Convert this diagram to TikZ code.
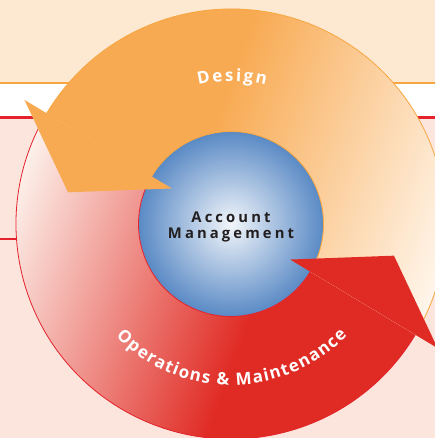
\documentclass[tikz,border=0pt]{standalone}
\usepackage{fontspec}
\setmainfont{Open Sans}
\usetikzlibrary{decorations.text}

\definecolor{peach}{HTML}{FDE9D1}
\definecolor{blush}{HTML}{FBE5DC}
\definecolor{lineorange}{HTML}{F7A640}
\definecolor{linered}{HTML}{E3222B}
\definecolor{designorange}{HTML}{F8AA52}
\definecolor{designlight}{HTML}{FFF6EC}
\definecolor{opsred}{HTML}{E02B24}
\definecolor{opslight}{HTML}{FDF1EB}
\definecolor{ballblue}{HTML}{5A8AC5}
\definecolor{textdark}{HTML}{231F20}

\begin{document}
\begin{tikzpicture}[x=1pt, y=1pt,
  ringlabel/.style={decorate, decoration={text along path, text align=center, text color=white}}]
% page frame: 435 x 438, origin at the centre of the cycle
\useasboundingbox (-231,-214) rectangle (204,224);

% background bands and rules
\fill[peach] (-231,141) rectangle (204,224);
\fill[white] (-231,107) rectangle (204,141);
\fill[blush] (-231,-214) rectangle (204,107);
\draw[lineorange, line width=2.5pt] (-231,141) -- (204,141);
\draw[linered, line width=2.5pt] (-231,106.5) -- (204,106.5);
\draw[linered, line width=2.5pt] (-231,-15) -- (-200,-15);

% centre ball
\shade[inner color=white!92!ballblue, outer color=ballblue] (0,0) circle (92.5);

% Operations & Maintenance band: 149 to 329 degrees
\begin{scope}
  \clip (149:215) arc[start angle=149, end angle=329, radius=215] -- (329:92.5) arc[start angle=329, end angle=149, radius=92.5] -- cycle;
  \begin{scope}[transform canvas={rotate=-20}]
    \shade[left color=opslight, right color=opsred, middle color=opsred] (-216,-240) rectangle (316,240);
  \end{scope}
\end{scope}
\draw[linered, line width=0.8pt] (149:215) arc[start angle=149, end angle=329, radius=215];
\draw[linered, line width=0.8pt] (149:92.5) arc[start angle=149, end angle=329, radius=92.5];

% Design band: -31 to 149 degrees
\begin{scope}
  \clip (-31:215) arc[start angle=-31, end angle=149, radius=215] -- (149:92.5) arc[start angle=149, end angle=-31, radius=92.5] -- cycle;
  \begin{scope}[transform canvas={rotate=-20}]
    \shade[left color=designorange, right color=designlight, middle color=designorange] (-316,-240) rectangle (216,240);
  \end{scope}
\end{scope}
\draw[lineorange, line width=0.8pt] (-31:215) arc[start angle=-31, end angle=149, radius=215];
\draw[lineorange, line width=0.8pt] (-31:92.5) arc[start angle=-31, end angle=149, radius=92.5];

% arrow heads
\fill[designorange] (149:241) -- (169:166) -- (149:69) -- cycle;
\fill[opsred] (329:241) -- (349:166) -- (329:69) -- cycle;

% labels
\node[align=center, text=textdark, font=\fontsize{14.8}{16.6}\selectfont\bfseries\addfontfeature{LetterSpace=21}] (hub) at (0,-3) {Account\\Management};
\path[ringlabel, decoration={text={|\fontsize{17}{17}\selectfont\bfseries\kern2.2pt|Design}}] (135:143) arc[start angle=135, end angle=45, radius=143];
\path[ringlabel, decoration={text={|\fontsize{17}{17}\selectfont\bfseries\kern1.3pt|Operations {\&} Maintenance}}] (225:161) arc[start angle=225, end angle=315, radius=161];
\end{tikzpicture}
\end{document}
